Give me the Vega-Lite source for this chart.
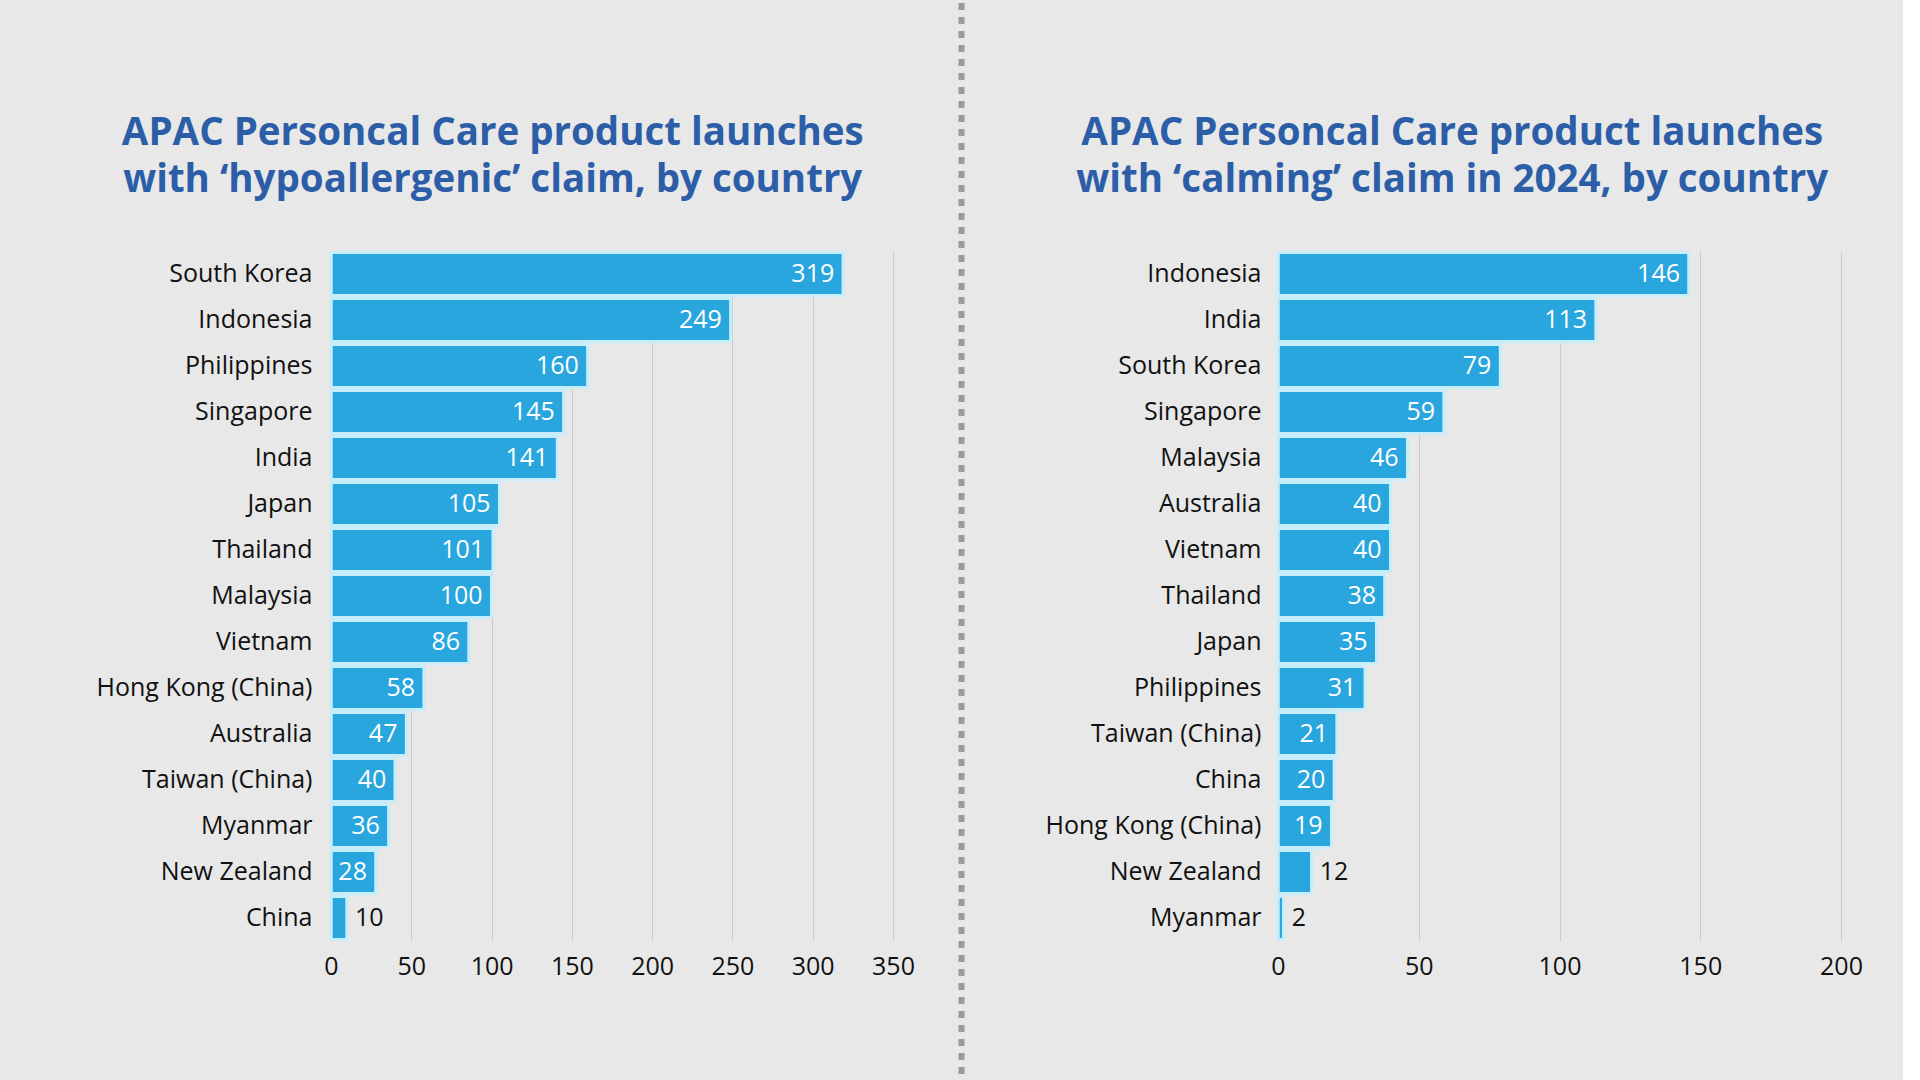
{
  "$schema": "https://vega.github.io/schema/vega-lite/v6.json",
  "background": "#e8e8e8",
  "padding": {"left": 71, "top": 0, "right": 40, "bottom": 0},
  "autosize": {"type": "pad"},
  "spacing": 43.5,
  "datasets": {
    "hypo": [
      {"country": "South Korea", "value": 319},
      {"country": "Indonesia", "value": 249},
      {"country": "Philippines", "value": 160},
      {"country": "Singapore", "value": 145},
      {"country": "India", "value": 141},
      {"country": "Japan", "value": 105},
      {"country": "Thailand", "value": 101},
      {"country": "Malaysia", "value": 100},
      {"country": "Vietnam", "value": 86},
      {"country": "Hong Kong (China)", "value": 58},
      {"country": "Australia", "value": 47},
      {"country": "Taiwan (China)", "value": 40},
      {"country": "Myanmar", "value": 36},
      {"country": "New Zealand", "value": 28},
      {"country": "China", "value": 10}
    ],
    "calm": [
      {"country": "Indonesia", "value": 146},
      {"country": "India", "value": 113},
      {"country": "South Korea", "value": 79},
      {"country": "Singapore", "value": 59},
      {"country": "Malaysia", "value": 46},
      {"country": "Australia", "value": 40},
      {"country": "Vietnam", "value": 40},
      {"country": "Thailand", "value": 38},
      {"country": "Japan", "value": 35},
      {"country": "Philippines", "value": 31},
      {"country": "Taiwan (China)", "value": 21},
      {"country": "China", "value": 20},
      {"country": "Hong Kong (China)", "value": 19},
      {"country": "New Zealand", "value": 12},
      {"country": "Myanmar", "value": 2}
    ],
    "div": [{"v": 0}],
    "none": [{"v": 0}]
  },
  "config": {
    "font": "Open Sans",
    "view": {"stroke": null},
    "title": {"fontSize": 38.5, "fontWeight": "bold", "color": "#2c5ea8", "lineHeight": 47, "anchor": "middle", "frame": "bounds", "offset": 50},
    "axis": {"labelFont": "Open Sans", "labelColor": "#111111", "labelFontSize": 25, "labelLimit": 320, "ticks": false, "domain": false, "title": null},
    "text": {"font": "Open Sans", "fontSize": 25}
  },
  "hconcat": [
    {
      "spacing": 0,
      "vconcat": [
        {"width": 1, "height": 111, "data": {"name": "none"}, "mark": {"type": "text", "text": ""}, "encoding": {}},
        {
          "width": 562,
          "height": 690,
          "title": {"text": ["APAC Personcal Care product launches", "with ‘hypoallergenic’ claim, by country"]},
          "data": {"name": "hypo"},
          "encoding": {
            "y": {"field": "country", "type": "nominal", "sort": null, "scale": {"paddingInner": 0.06, "paddingOuter": 0.03}, "axis": {"labelPadding": 19, "minExtent": 260, "maxExtent": 260, "grid": false}},
            "x": {"field": "value", "type": "quantitative", "scale": {"domain": [0, 350]}, "axis": {"values": [0, 50, 100, 150, 200, 250, 300, 350], "grid": true, "gridColor": "#cccccc", "labelFlush": false, "labelPadding": 13}}
          },
          "layer": [
            {"mark": {"type": "bar", "color": "#29a6de", "stroke": "#c6eefa", "strokeWidth": 3, "cornerRadius": 2}},
            {"transform": [{"filter": "datum.value >= 15"}], "mark": {"type": "text", "align": "right", "dx": -9, "color": "white", "baseline": "middle"}, "encoding": {"text": {"field": "value", "type": "quantitative"}}},
            {"transform": [{"filter": "datum.value < 15"}], "mark": {"type": "text", "align": "left", "dx": 8, "color": "#111111", "baseline": "middle"}, "encoding": {"text": {"field": "value", "type": "quantitative"}}}
          ]
        }
      ]
    },
    {
      "width": 36.5,
      "height": 1074,
      "data": {"name": "div"},
      "mark": {"type": "rule", "color": "#9a9a9a", "strokeWidth": 6, "strokeDash": [7, 7]},
      "encoding": {"x": {"field": "v", "type": "quantitative", "scale": {"domain": [0, 1]}, "axis": null}}
    },
    {
      "spacing": 0,
      "vconcat": [
        {"width": 1, "height": 111, "data": {"name": "none"}, "mark": {"type": "text", "text": ""}, "encoding": {}},
        {
          "width": 563,
          "height": 690,
          "title": {"text": ["APAC Personcal Care product launches", "with ‘calming’ claim in 2024, by country"]},
          "data": {"name": "calm"},
          "encoding": {
            "y": {"field": "country", "type": "nominal", "sort": null, "scale": {"paddingInner": 0.06, "paddingOuter": 0.03}, "axis": {"labelPadding": 17, "minExtent": 236, "maxExtent": 236, "grid": false}},
            "x": {"field": "value", "type": "quantitative", "scale": {"domain": [0, 200]}, "axis": {"values": [0, 50, 100, 150, 200], "grid": true, "gridColor": "#cccccc", "labelFlush": false, "labelPadding": 13}}
          },
          "layer": [
            {"mark": {"type": "bar", "color": "#29a6de", "stroke": "#c6eefa", "strokeWidth": 3, "cornerRadius": 2}},
            {"transform": [{"filter": "datum.value >= 15"}], "mark": {"type": "text", "align": "right", "dx": -9, "color": "white", "baseline": "middle"}, "encoding": {"text": {"field": "value", "type": "quantitative"}}},
            {"transform": [{"filter": "datum.value < 15"}], "mark": {"type": "text", "align": "left", "dx": 8, "color": "#111111", "baseline": "middle"}, "encoding": {"text": {"field": "value", "type": "quantitative"}}}
          ]
        }
      ]
    }
  ]
}
